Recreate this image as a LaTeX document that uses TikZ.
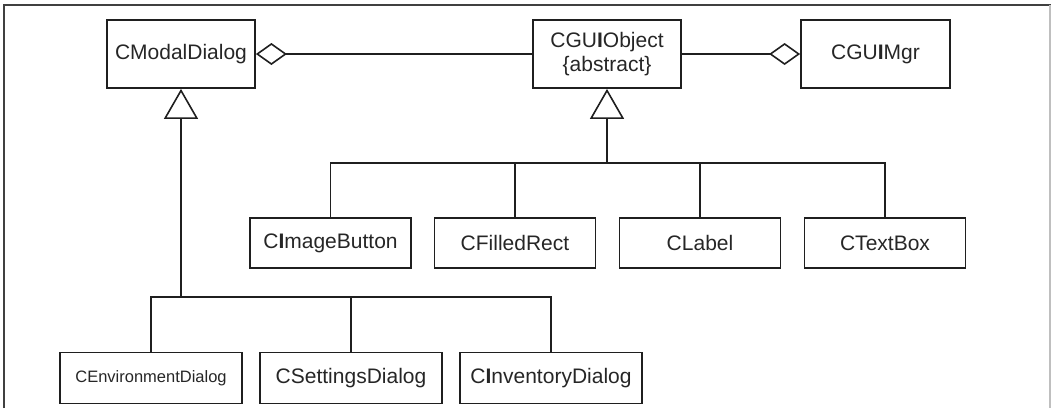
\documentclass[tikz,border=0pt]{standalone}
\usepackage{fontspec}
\setmainfont{Liberation Sans}
\usetikzlibrary{arrows.meta}
\tikzset{
  cls/.style={draw=black!88, line width=1.8pt, inner sep=0pt, minimum height=#1, font=\fontsize{21}{24}\selectfont, align=center, text=black!85},
  conn/.style={draw=black!88, line width=1.6pt},
  aggr/.style={conn, -{Diamond[open, length=31pt, width=22pt, line width=1.6pt]}},
  gen/.style={conn, -{Triangle[open, length=30pt, width=34pt, line width=1.6pt]}},
}
\newcommand{\BI}{\textbf{I}}
\begin{document}
\begin{tikzpicture}[x=1pt,y=-1pt]
\useasboundingbox (0,0) rectangle (1051,408);
% frame
\draw[black!75, line width=2pt] (3.5,408) -- (3.5,5) -- (1051,5);
\draw[black!25, line width=1.5pt] (1050,5) -- (1050,408);
% top row
\node[cls=68pt, minimum width=148pt] (modal) at (181,54) {CModalDialog};
\node[cls=68pt, minimum width=148pt] (gui) at (607,54) {CGU\BI Object\\{\{abstract\}}};
\node[cls=68pt, minimum width=149pt] (mgr) at (875.5,54) {CGU\BI Mgr};
% middle row
\node[cls=50pt, minimum width=161pt] (img) at (330.5,243) {C\BI mageButton};
\node[cls=50pt, minimum width=161pt] (fill) at (515,243) {CFilledRect};
\node[cls=50pt, minimum width=161pt] (lab) at (700,243) {CLabel};
\node[cls=50pt, minimum width=161pt] (tbox) at (885,243) {CTextBox};
% bottom row
\node[cls=51pt, minimum width=182pt, font=\fontsize{16.5}{20}\selectfont] (env) at (151,378) {CEnvironmentDialog};
\node[cls=51pt, minimum width=182pt] (sett) at (351,378) {CSettingsDialog};
\node[cls=51pt, minimum width=182pt] (inv) at (551,378) {C\BI nventoryDialog};
% aggregations
\draw[aggr] (gui.west) -- (modal.east);
\draw[aggr] (gui.east) -- (mgr.west);
% generalization: GUI objects
\draw[gen] (gui.south |- 0,163) -- (gui.south);
\draw[conn] (img.north) -- (img.north |- 0,163) -- (tbox.north |- 0,163) -- (tbox.north);
\draw[conn] (fill.north) -- (fill.north |- 0,163);
\draw[conn] (lab.north) -- (lab.north |- 0,163);
% generalization: dialogs
\draw[gen] (modal.south |- 0,297) -- (modal.south);
\draw[conn] (env.north) -- (env.north |- 0,297) -- (inv.north |- 0,297) -- (inv.north);
\draw[conn] (sett.north) -- (sett.north |- 0,297);
\end{tikzpicture}
\end{document}
